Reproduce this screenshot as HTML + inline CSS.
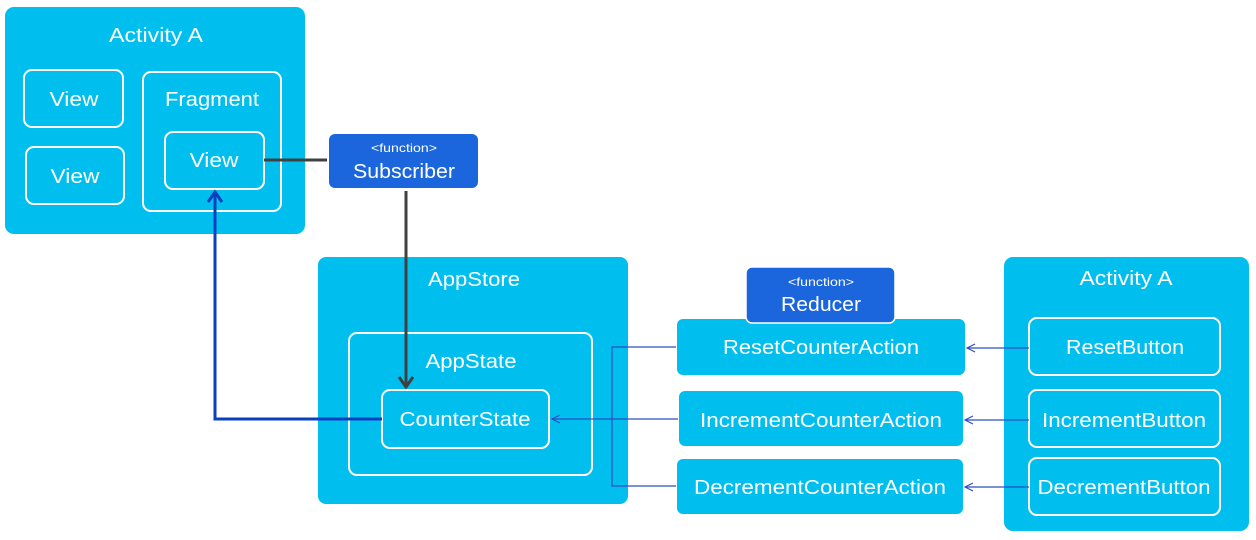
<!DOCTYPE html>
<html><head><meta charset="utf-8"><style>
html,body{margin:0;padding:0;background:#fff;width:1256px;height:540px;overflow:hidden}
svg text{font-family:"Liberation Sans",sans-serif;fill:#fff;text-anchor:middle}
</style></head><body>
<svg width="1256" height="540" viewBox="0 0 1256 540" xmlns="http://www.w3.org/2000/svg">
<defs>
<marker id="ah" markerWidth="10" markerHeight="10" refX="9" refY="5" orient="auto" markerUnits="userSpaceOnUse"><path d="M1,1 L9,5 L1,9" fill="none" stroke="#2a4fc0" stroke-width="1.2"/></marker>
</defs>
<g fill="#00bfef">
<rect x="5" y="7" width="300" height="227" rx="9"/>
<rect x="318" y="257" width="310" height="247" rx="8"/>
<rect x="1004" y="257" width="245" height="274" rx="9"/>
<rect x="677" y="319" width="288" height="56" rx="6"/>
<rect x="679" y="391" width="284" height="55" rx="6"/>
<rect x="677" y="459" width="286" height="55" rx="6"/>
</g>
<g fill="none" stroke="#fff" stroke-width="2">
<rect x="24" y="70" width="99" height="57" rx="8"/>
<rect x="26" y="147" width="98" height="57" rx="8"/>
<rect x="143" y="72" width="138" height="139" rx="8"/>
<rect x="165" y="132" width="99" height="57" rx="8"/>
<rect x="349" y="333" width="243" height="142" rx="8"/>
<rect x="382" y="390" width="167" height="58" rx="8"/>
<rect x="1029" y="318" width="191" height="57" rx="8"/>
<rect x="1029" y="390" width="191" height="57" rx="8"/>
<rect x="1029" y="458" width="191" height="57" rx="8"/>
</g>
<rect x="329" y="134" width="149" height="54" rx="6" fill="#1b66dc"/>
<rect x="746" y="267" width="149" height="56" rx="6" fill="#1b66dc" stroke="#fff" stroke-width="1.5"/>
<!-- connectors -->
<path d="M264,160 H327" stroke="#404040" stroke-width="3" fill="none"/>
<path d="M406,191 V386" stroke="#404040" stroke-width="3" fill="none"/>
<path d="M399,377 L406,387 L413,377" stroke="#404040" stroke-width="3" fill="none"/>
<path d="M382,419 H215 V193" stroke="#0a3fbf" stroke-width="3" fill="none"/>
<path d="M208,202 L215,192 L222,202" stroke="#0a3fbf" stroke-width="3" fill="none"/>
<path d="M676,347 H612 V486 H676" stroke="#2a4fc0" stroke-width="1.2" fill="none"/>
<path d="M678,419 H552" stroke="#2a4fc0" stroke-width="1.2" fill="none" marker-end="url(#ah)"/>
<path d="M1029,348 H967" stroke="#2a4fc0" stroke-width="1.2" fill="none" marker-end="url(#ah)"/>
<path d="M1029,420 H965" stroke="#2a4fc0" stroke-width="1.2" fill="none" marker-end="url(#ah)"/>
<path d="M1029,487 H965" stroke="#2a4fc0" stroke-width="1.2" fill="none" marker-end="url(#ah)"/>
<!-- text -->
<g font-size="20">
<text x="156" y="42" textLength="94" lengthAdjust="spacingAndGlyphs">Activity A</text>
<text x="74" y="106" textLength="49" lengthAdjust="spacingAndGlyphs">View</text>
<text x="75" y="183" textLength="49" lengthAdjust="spacingAndGlyphs">View</text>
<text x="212" y="106" textLength="94" lengthAdjust="spacingAndGlyphs">Fragment</text>
<text x="214" y="167" textLength="49" lengthAdjust="spacingAndGlyphs">View</text>
<text x="404" y="178" textLength="102" lengthAdjust="spacingAndGlyphs">Subscriber</text>
<text x="474" y="286" textLength="92" lengthAdjust="spacingAndGlyphs">AppStore</text>
<text x="471" y="368" textLength="91" lengthAdjust="spacingAndGlyphs">AppState</text>
<text x="465" y="426" textLength="131" lengthAdjust="spacingAndGlyphs">CounterState</text>
<text x="821" y="311" textLength="80" lengthAdjust="spacingAndGlyphs">Reducer</text>
<text x="821" y="354" textLength="196" lengthAdjust="spacingAndGlyphs">ResetCounterAction</text>
<text x="821" y="427" textLength="242" lengthAdjust="spacingAndGlyphs">IncrementCounterAction</text>
<text x="820" y="494" textLength="252" lengthAdjust="spacingAndGlyphs">DecrementCounterAction</text>
<text x="1126" y="285" textLength="93" lengthAdjust="spacingAndGlyphs">Activity A</text>
<text x="1125" y="354" textLength="118" lengthAdjust="spacingAndGlyphs">ResetButton</text>
<text x="1124" y="427" textLength="164" lengthAdjust="spacingAndGlyphs">IncrementButton</text>
<text x="1124" y="494" textLength="173" lengthAdjust="spacingAndGlyphs">DecrementButton</text>
</g>
<g font-size="12">
<text x="404" y="152" textLength="66" lengthAdjust="spacingAndGlyphs">&lt;function&gt;</text>
<text x="821" y="286" textLength="66" lengthAdjust="spacingAndGlyphs">&lt;function&gt;</text>
</g>
</svg>
</body></html>
